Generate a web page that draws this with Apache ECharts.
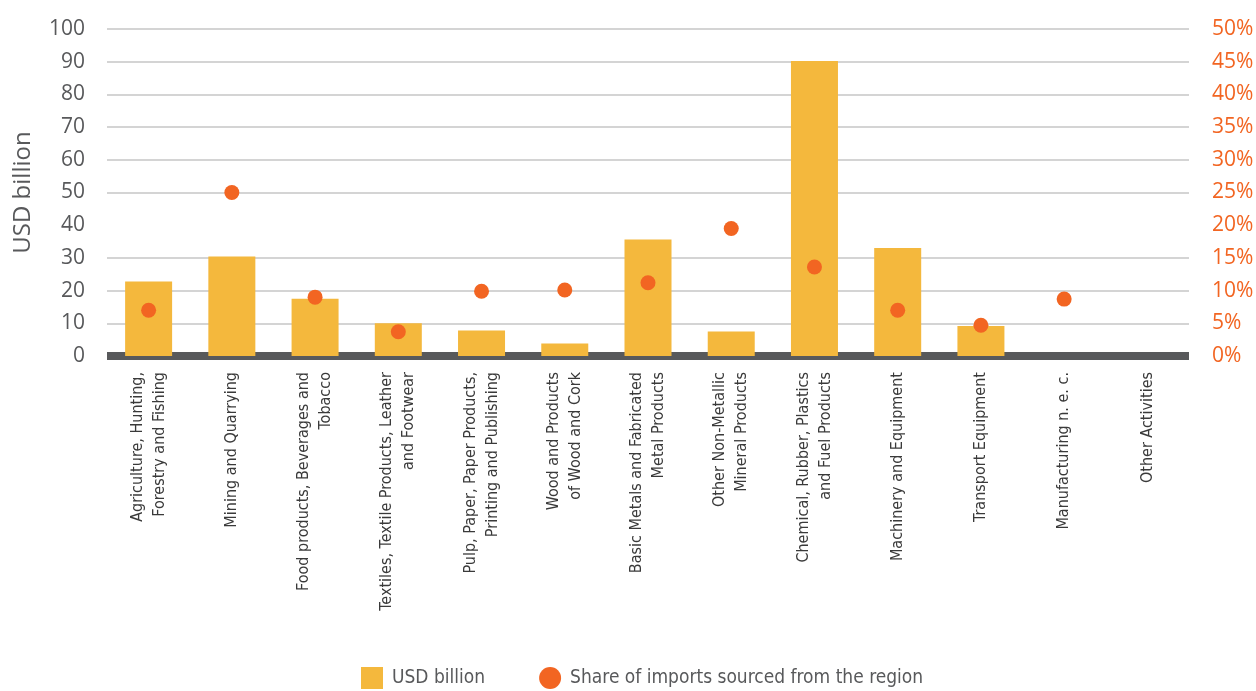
<!DOCTYPE html>
<html><head><meta charset="utf-8">
<script src="https://cdn.jsdelivr.net/npm/echarts@6/dist/echarts.min.js"></script>
<style>html,body{margin:0;padding:0;background:#fff}#c{width:1256px;height:691px}</style>
</head><body><div id="c"></div>
<script>
const categories = [
  "Agriculture, Hunting,\nForestry and Fishing",
  "Mining and Quarrying",
  "Food products, Beverages and\nTobacco",
  "Textiles, Textile Products, Leather\nand Footwear",
  "Pulp, Paper, Paper Products,\nPrinting and Publishing",
  "Wood and Products\nof Wood and Cork",
  "Basic Metals and Fabricated\nMetal Products",
  "Other Non-Metallic\nMineral Products",
  "Chemical, Rubber, Plastics\nand Fuel Products",
  "Machinery and Equipment",
  "Transport Equipment",
  "Manufacturing n. e. c.",
  "Other Activities"
];
const usdBillion = [22.8, 30.4, 17.5, 10.0, 7.8, 3.8, 35.6, 7.5, 90.2, 33.0, 9.2, 0, 0];
const sharePct = [7.0, 25.0, 9.0, 3.7, 9.9, 10.1, 11.2, 19.5, 13.6, 7.0, 4.7, 8.7, null];
const leftTicks = {min: 0, max: 100, interval: 10};
const rightTicks = {min: 0, max: 50, interval: 5};

const labelFont = "'DejaVu Sans Condensed','Liberation Sans Narrow',sans-serif";
const chart = echarts.init(document.getElementById('c'));
chart.setOption({
  animation: false,
  grid: {left: 107, right: 67, top: 29, bottom: 335, containLabel: false, outerBoundsMode: 'none'},
  legend: {
    bottom: 2, left: 361, padding: 0, itemGap: 54, itemWidth: 22, itemHeight: 22,
    textStyle: {fontFamily: labelFont, fontSize: 19, color: '#58595b', padding: [0, 0, 0, 4]},
    data: [
      {name: 'USD billion', icon: 'rect'},
      {name: 'Share of imports sourced from the region', icon: 'circle'}
    ]
  },
  xAxis: {
    type: 'category', data: categories,
    axisLine: {lineStyle: {color: '#58595b', width: 8, cap: 'butt'}},
    axisTick: {show: false},
    axisLabel: {rotate: 90, interval: 0, margin: 16, fontFamily: labelFont, fontSize: 16, color: '#3a3a3a', lineHeight: 22}
  },
  yAxis: [
    {
      type: 'value', min: leftTicks.min, max: leftTicks.max, interval: leftTicks.interval,
      name: 'USD billion', nameLocation: 'middle', nameGap: 72, nameRotate: 90,
      nameTextStyle: {fontFamily: "'Open Sans',sans-serif", fontSize: 24, color: '#58595b'},
      axisLine: {show: false}, axisTick: {show: false},
      axisLabel: {fontFamily: "'Open Sans',sans-serif", fontSize: 21, color: '#58595b', margin: 22},
      splitLine: {lineStyle: {color: ['#d4d4d4','#d4d4d4','#d4d4d4','#d4d4d4','rgba(0,0,0,0)','#d4d4d4','#d4d4d4','#d4d4d4','#d4d4d4','#d4d4d4','#d4d4d4'], width: 2}}
    },
    {
      type: 'value', min: rightTicks.min, max: rightTicks.max, interval: rightTicks.interval,
      axisLine: {show: false}, axisTick: {show: false}, splitLine: {show: false},
      axisLabel: {fontFamily: "'Open Sans',sans-serif", fontSize: 21, color: '#f26522', margin: 23, align: 'left', formatter: '{value}%'}
    }
  ],
  series: [
    {
      name: 'USD billion', type: 'bar', data: usdBillion, yAxisIndex: 0,
      barWidth: 47, itemStyle: {color: '#f4b83d'}
    },
    {
      name: 'Share of imports sourced from the region', type: 'scatter', data: sharePct, yAxisIndex: 1,
      symbol: 'circle', symbolSize: 15, itemStyle: {color: '#f26522', opacity: 1}
    }
  ]
});
</script>
</body></html>
